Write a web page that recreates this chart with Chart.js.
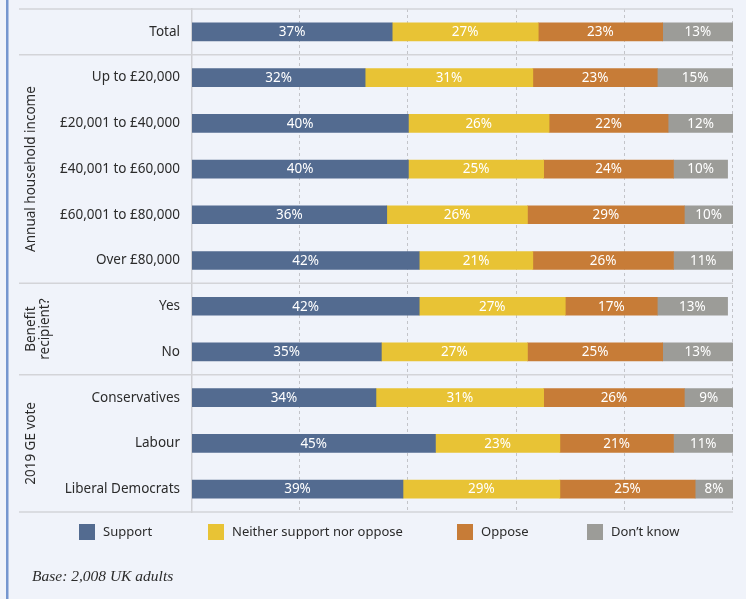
<!DOCTYPE html>
<html>
<head>
<meta charset="utf-8">
<script src="https://cdn.jsdelivr.net/npm/chart.js@4.4.1/dist/chart.umd.min.js"></script>
<style>
  html, body { margin: 0; padding: 0; background: #f0f3fa; }
  #wrap { width: 746px; height: 599px; position: relative; }
  canvas { display: block; }
</style>
</head>
<body>
<div id="wrap"><canvas id="c" width="746" height="599"></canvas></div>
<script>
// Survey rows, top to bottom
const categories = [
  'Total',
  'Up to £20,000', '£20,001 to £40,000', '£40,001 to £60,000', '£60,001 to £80,000', 'Over £80,000',
  'Yes', 'No',
  'Conservatives', 'Labour', 'Liberal Democrats'
];
const support   = [37, 32, 40, 40, 36, 42, 42, 35, 34, 45, 39];
const neither   = [27, 31, 26, 25, 26, 21, 27, 27, 31, 23, 29];
const oppose    = [23, 23, 22, 24, 29, 26, 17, 25, 26, 21, 25];
const dontKnow  = [13, 15, 12, 10, 10, 11, 13, 13,  9, 11,  8];
const seriesNames = ['Support', 'Neither support nor oppose', 'Oppose', 'Don\u2019t know'];
const xTicks = [0, 20, 40, 60, 80, 100];

// Row groups: [first row index, last row index, label lines]
const groups = [
  [1, 5, ['Annual household income']],
  [6, 7, ['Benefit', 'recipient?']],
  [8, 10, ['2019 GE vote']]
];
const footNote = 'Base: 2,008 UK adults';

const colors = ['#536b90', '#e8c335', '#c77c37', '#9c9c98'];
const SANS = '"Noto Sans", "Open Sans", sans-serif';

const decorations = {
  id: 'decorations',
  beforeDatasetsDraw(chart) {
    const ctx = chart.ctx;
    const x = chart.scales.x;
    const y = chart.scales.y;
    const area = chart.chartArea;
    ctx.save();
    // page frame accent on the left
    ctx.fillStyle = '#7596cf';
    ctx.fillRect(6, 0, 2.5, chart.height);
    // dashed vertical gridlines at each tick (the zero line is the axis itself)
    ctx.strokeStyle = '#c3c4c9';
    ctx.lineWidth = 1;
    ctx.setLineDash([3, 3]);
    xTicks.filter(v => v !== 0).forEach(v => {
      const px = Math.round(x.getPixelForValue(v)) - 0.5;
      ctx.beginPath();
      ctx.moveTo(px, area.top);
      ctx.lineTo(px, area.bottom);
      ctx.stroke();
    });
    ctx.setLineDash([]);
    // horizontal separators between sections
    ctx.strokeStyle = '#d3d4d8';
    ctx.lineWidth = 1.5;
    const bounds = [area.top, area.bottom];
    groups.forEach(g => {
      const a = y.getPixelForValue(g[0]);
      const b = y.getPixelForValue(g[0] - 1);
      bounds.push((a + b) / 2);
    });
    bounds.forEach(py => {
      ctx.beginPath();
      ctx.moveTo(19, py);
      ctx.lineTo(area.right, py);
      ctx.stroke();
    });
    // rotated group titles
    ctx.fillStyle = '#2b2b2b';
    ctx.font = '13.5px ' + SANS;
    ctx.textAlign = 'center';
    ctx.textBaseline = 'middle';
    groups.forEach(g => {
      const cy = (y.getPixelForValue(g[0]) + y.getPixelForValue(g[1])) / 2;
      const lines = g[2];
      const lh = 14;
      lines.forEach((t, i) => {
        const cx = 31 + i * lh;
        ctx.save();
        ctx.translate(cx, cy);
        ctx.rotate(-Math.PI / 2);
        ctx.fillText(t, 0, 0);
        ctx.restore();
      });
    });
    ctx.restore();
  },
  afterDatasetsDraw(chart) {
    const ctx = chart.ctx;
    ctx.save();
    // value labels inside segments
    ctx.fillStyle = '#ffffff';
    ctx.font = '13.5px ' + SANS;
    ctx.textAlign = 'center';
    ctx.textBaseline = 'middle';
    chart.data.datasets.forEach((ds, di) => {
      const meta = chart.getDatasetMeta(di);
      meta.data.forEach((bar, i) => {
        const right = Math.min(bar.x, chart.chartArea.right);
        const cx = (bar.base + right) / 2;
        ctx.fillText(ds.data[i] + '%', cx, bar.y + 0.5);
      });
    });
    // legend
    const legendX = [79, 208, 457, 587];
    const ly = 532;
    ctx.textAlign = 'left';
    ctx.font = '13px ' + SANS;
    chart.data.datasets.forEach((ds, di) => {
      ctx.fillStyle = ds.backgroundColor;
      ctx.fillRect(legendX[di], ly - 8, 16, 16);
      ctx.fillStyle = '#2b2b2b';
      ctx.fillText(ds.label, legendX[di] + 24, ly + 0.5);
    });
    // footnote
    ctx.fillStyle = '#2b2b2b';
    ctx.font = 'italic 15.5px "Liberation Serif", "DejaVu Serif", serif';
    ctx.fillText(footNote, 32, 577);
    ctx.restore();
  }
};

const seriesValues = [support, neither, oppose, dontKnow];

new Chart(document.getElementById('c'), {
  type: 'bar',
  data: {
    labels: categories,
    datasets: seriesValues.map((vals, i) => ({
      label: seriesNames[i],
      data: vals,
      backgroundColor: colors[i],
      borderWidth: 0,
      barThickness: 18
    }))
  },
  options: {
    indexAxis: 'y',
    responsive: false,
    animation: false,
    layout: { padding: { top: 9, bottom: 87, right: 13, left: 0 } },
    plugins: { legend: { display: false }, tooltip: { enabled: false } },
    scales: {
      x: {
        stacked: true,
        min: 0,
        max: 100,
        afterBuildTicks(scale) { scale.ticks = xTicks.map(v => ({ value: v })); },
        afterFit(scale) { scale.height = 0; scale.paddingLeft = 0; scale.paddingRight = 0; },
        ticks: { display: false },
        border: { display: false },
        grid: { display: false, drawTicks: false }
      },
      y: {
        stacked: true,
        afterFit(scale) { scale.width = 192; scale.paddingTop = 0; scale.paddingBottom = 0; },
        grid: { display: false, drawTicks: false },
        border: { display: true, color: '#cfd0d4', width: 1.5 },
        ticks: {
          padding: 12,
          color: '#2b2b2b',
          font: { family: '"Noto Sans", "Open Sans", sans-serif', size: 13.5 }
        }
      }
    }
  },
  plugins: [decorations]
});
</script>
</body>
</html>
